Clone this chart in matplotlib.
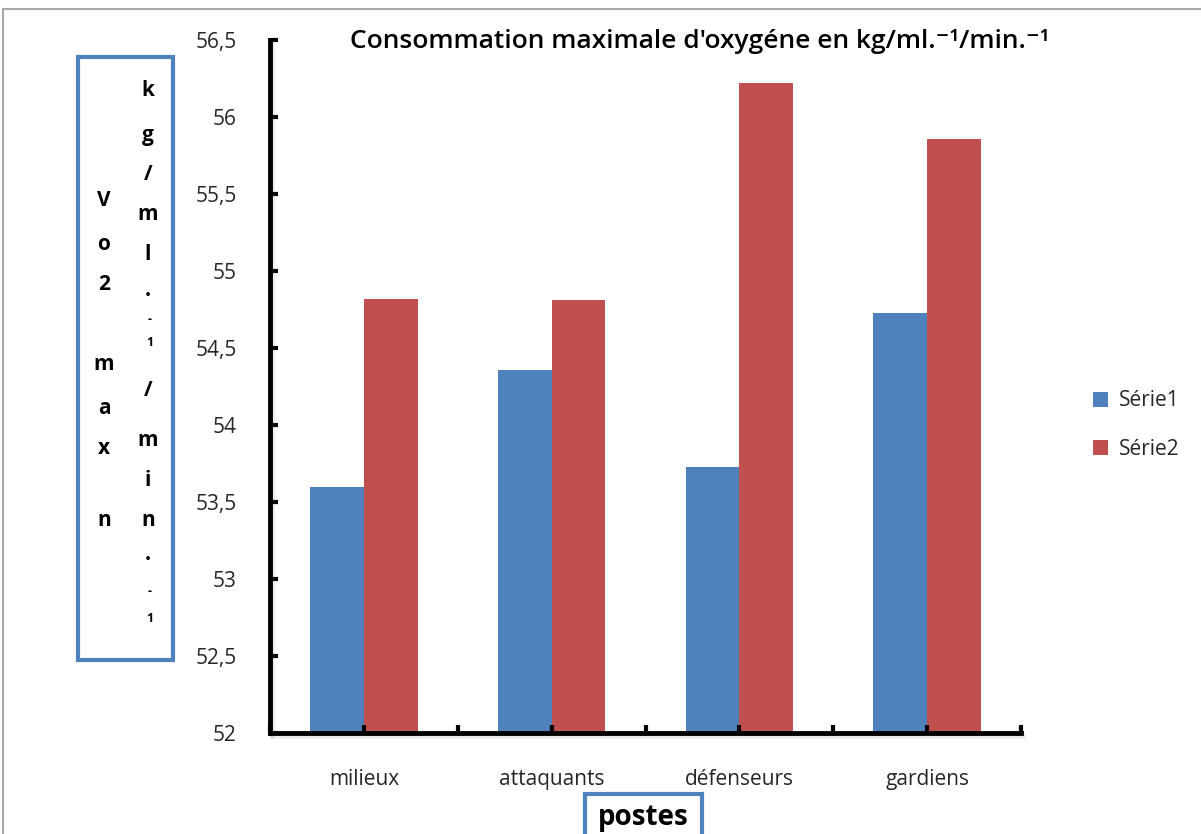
import matplotlib
matplotlib.use("Agg")
import matplotlib.pyplot as plt
import matplotlib.patheffects as pe
from matplotlib.patches import Rectangle
import numpy as np

# data
postes = ["milieux", "attaquants", "défenseurs", "gardiens"]
serie1 = [53.60, 54.36, 53.73, 54.73]
serie2 = [54.82, 54.81, 56.22, 55.86]
y_ticks = [52, 52.5, 53, 53.5, 54, 54.5, 55, 55.5, 56, 56.5]
y_labels = ["52", "52,5", "53", "53,5", "54", "54,5", "55", "55,5", "56", "56,5"]
title = "Consommation maximale d'oxygéne en kg/ml.⁻¹/min.⁻¹"

blue = "#4F81BD"
red = "#C0504D"
fam = ["Open Sans", "DejaVu Sans"]
plt.rcParams["font.family"] = fam

fig = plt.figure(figsize=(12.01, 8.34), dpi=100)
W, H = 1201, 834

def fx(px):
    return px / W

def fy(py):
    return 1 - py / H

# light gray frame round the chart area
fig.add_artist(Rectangle((fx(3), fy(900)), fx(1300), fy(9) - fy(900), transform=fig.transFigure,
                         fill=False, edgecolor="#a8a8a8", linewidth=1.5))

ax = fig.add_axes([fx(270), fy(733), fx(1021) - fx(270), fy(40) - fy(733)])

x = np.arange(len(postes))
w = 0.2857
b1 = ax.bar(x - w / 2, np.array(serie1) - 52, w, bottom=52, color=blue, label="Série1")
b2 = ax.bar(x + w / 2, np.array(serie2) - 52, w, bottom=52, color=red, label="Série2")

ax.set_xlim(-0.5, 3.5)
ax.set_ylim(52, 56.5)
ax.set_yticks(y_ticks)
ax.set_yticklabels(y_labels, fontsize=15, color="#262626")
ax.tick_params(axis="y", direction="in", length=6, width=3, pad=24)

# ticks on the x axis every half category, labels in the category centres
ax.xaxis.remove_overlapping_locs = False
ax.set_xticks(np.arange(-0.5, 3.6, 0.5))
ax.set_xticklabels([])
ax.set_xticks(x, minor=True)
ax.set_xticklabels(postes, minor=True, fontsize=15, color="#262626")
ax.tick_params(axis="x", which="major", direction="in", length=6, width=3)
ax.tick_params(axis="x", which="minor", length=0, pad=26)

for s in ["top", "right"]:
    ax.spines[s].set_visible(False)
for s in ["left", "bottom"]:
    ax.spines[s].set_linewidth(3.5)
    ax.spines[s].set_path_effects([pe.SimpleLineShadow(offset=(1.5, -2.5), alpha=0.15, shadow_color="gray"),
                                   pe.Normal()])

fig.text(fx(700), fy(42), title, ha="center", va="center", fontsize=19, fontweight="semibold",
         color="black")

# legend
leg = fig.legend(handles=[b1, b2], loc="center left", bbox_to_anchor=(fx(1074), fy(425)),
                 frameon=False, fontsize=15, handlelength=0.75, handleheight=0.75,
                 labelspacing=1.3, handletextpad=0.5)
for t in leg.get_texts():
    t.set_color("#262626")

# y label box with stacked letters
fig.add_artist(Rectangle((fx(78), fy(660)), fx(173) - fx(78), fy(57) - fy(660), transform=fig.transFigure,
                         fill=False, edgecolor=blue, linewidth=3))
left_col = [("V", 200), ("o", 245), ("2", 285), ("m", 365), ("a", 408), ("x", 448), ("n", 520)]
right_col = [("k", 90), ("g", 135), ("/", 175), ("m", 215), ("l", 255), (".", 290),
             ("/", 390), ("m", 440), ("i", 480), ("n", 520), (".", 554)]
small_col = [("-", 320), ("1", 343), ("-", 592), ("1", 618)]
for ch, py in left_col:
    fig.text(fx(104), fy(py), ch, ha="center", va="center", fontsize=15, fontweight="bold")
for ch, py in right_col:
    fig.text(fx(148), fy(py), ch, ha="center", va="center", fontsize=15, fontweight="bold")
for ch, py in small_col:
    fig.text(fx(150), fy(py), ch, ha="center", va="center", fontsize=9, fontweight="bold")

# x label box
fig.add_artist(Rectangle((fx(585), fy(860)), fx(702) - fx(585), fy(794) - fy(860), transform=fig.transFigure,
                         fill=False, edgecolor=blue, linewidth=3))
fig.text(fx(643), fy(818), "postes", ha="center", va="center", fontsize=20, fontweight="bold")

fig.savefig("out.png", dpi=100)
